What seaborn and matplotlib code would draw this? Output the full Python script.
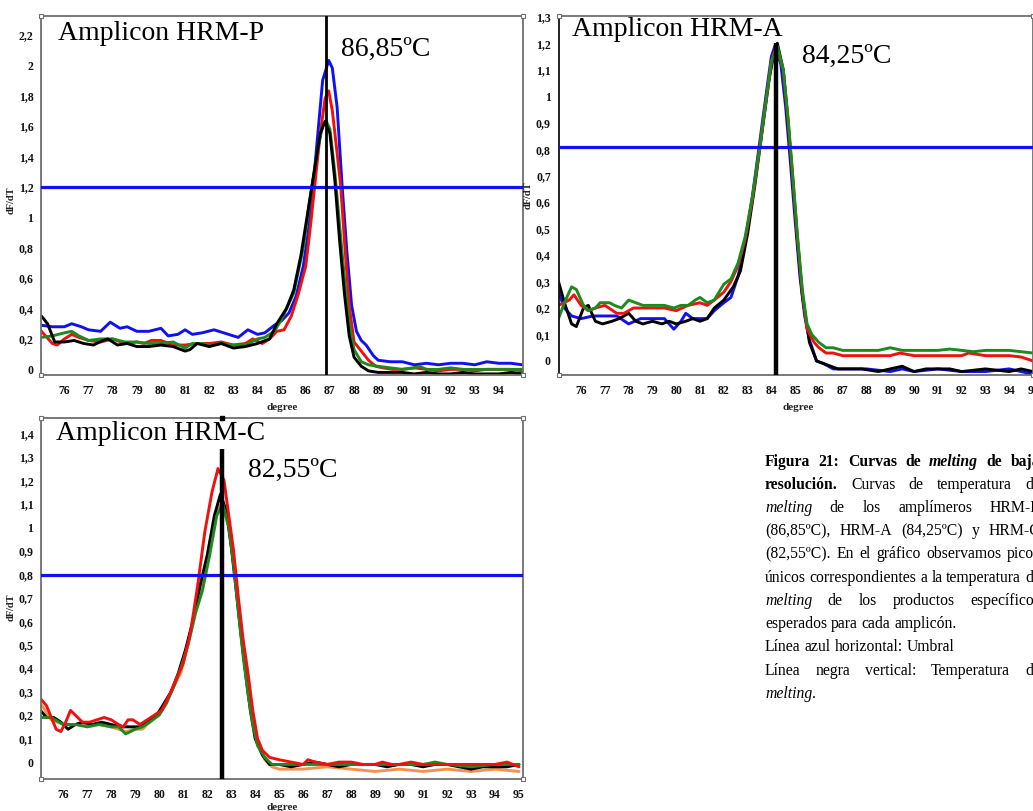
import numpy as np
import pandas as pd
import matplotlib
matplotlib.use("Agg")
import matplotlib.pyplot as plt
import seaborn as sns
from matplotlib.transforms import IdentityTransform
from matplotlib.ticker import FuncFormatter

sns.set_theme(style="white")
plt.rcParams['font.family'] = ['Liberation Serif', 'DejaVu Serif']

# ---------------- data: HRM-P ----------------
p_blue_x = [75.05,75.5,76.0,76.3,76.7,77.0,77.5,77.9,78.3,78.6,79.0,79.5,80.0,80.3,80.7,81.0,81.3,81.7,82.2,82.6,83.0,83.2,83.6,84.0,84.3,84.7,85.0,85.3,85.6,85.9,86.1,86.3,86.5,86.7,86.95,87.1,87.3,87.5,87.7,87.9,88.1,88.3,88.5,88.8,89.0,89.5,90.0,90.5,91.0,91.5,92.0,92.5,93.0,93.5,94.0,94.5,94.98]
p_blue_y = [0.29,0.28,0.28,0.30,0.28,0.26,0.25,0.31,0.27,0.28,0.25,0.25,0.27,0.22,0.23,0.26,0.23,0.24,0.26,0.24,0.22,0.21,0.26,0.23,0.24,0.29,0.32,0.37,0.48,0.68,0.90,1.20,1.55,1.90,2.03,1.98,1.72,1.22,0.78,0.42,0.25,0.19,0.16,0.09,0.06,0.05,0.05,0.03,0.04,0.03,0.04,0.04,0.03,0.05,0.04,0.04,0.03]
p_red_x = [75.05,75.5,75.7,76.0,76.3,76.6,77.0,77.5,78.0,78.5,79.0,79.3,79.6,80.0,80.5,81.0,81.5,82.0,82.5,83.0,83.5,83.8,84.2,84.5,84.8,85.1,85.4,85.7,86.0,86.2,86.4,86.6,86.8,86.95,87.1,87.3,87.45,87.6,87.8,88.0,88.3,88.6,88.9,89.2,89.6,90.0,90.5,91.0,91.5,92.0,92.5,93.0,93.5,94.0,94.5,94.98]
p_red_y = [0.25,0.17,0.16,0.20,0.23,0.21,0.19,0.18,0.20,0.17,0.18,0.17,0.19,0.19,0.16,0.16,0.17,0.17,0.18,0.16,0.17,0.20,0.17,0.20,0.25,0.26,0.35,0.50,0.68,0.95,1.25,1.55,1.78,1.83,1.70,1.42,1.20,0.85,0.42,0.18,0.12,0.06,0.02,0.01,0.0,0.0,0.01,0.0,-0.01,0.0,0.0,-0.01,0.0,0.0,0.0,-0.01]
p_green_x = [75.05,75.5,76.0,76.3,76.6,77.0,77.5,78.0,78.5,79.0,79.5,80.0,80.5,81.0,81.3,81.7,82.0,82.5,83.0,83.5,84.0,84.3,84.7,85.0,85.5,85.9,86.2,86.5,86.7,86.85,87.0,87.2,87.4,87.6,87.8,88.0,88.3,88.6,89.0,89.5,90.0,90.5,90.7,91.0,91.5,92.0,92.5,93.0,93.5,94.0,94.5,94.98]
p_green_y = [0.21,0.22,0.24,0.25,0.22,0.19,0.20,0.20,0.18,0.18,0.17,0.17,0.18,0.14,0.17,0.17,0.16,0.17,0.16,0.16,0.20,0.21,0.25,0.33,0.50,0.80,1.15,1.45,1.60,1.63,1.58,1.30,0.95,0.60,0.30,0.13,0.05,0.03,0.02,0.01,0.0,0.01,0.02,0.0,0.0,0.01,0.0,0.0,0.0,0.0,0.0,0.0]
p_black_x = [75.05,75.3,75.6,76.0,76.4,76.8,77.2,77.6,77.8,78.2,78.6,79.0,79.5,80.0,80.5,81.0,81.2,81.5,82.0,82.5,83.0,83.5,84.0,84.5,84.8,85.2,85.5,85.8,86.1,86.4,86.6,86.8,87.0,87.2,87.4,87.6,87.8,88.0,88.3,88.6,89.0,89.5,90.0,90.5,91.0,91.5,92.0,92.5,93.0,93.5,94.0,94.5,94.98]
p_black_y = [0.35,0.30,0.18,0.18,0.19,0.17,0.16,0.19,0.20,0.16,0.17,0.15,0.15,0.16,0.15,0.12,0.13,0.17,0.15,0.17,0.14,0.15,0.17,0.20,0.30,0.40,0.52,0.75,1.05,1.35,1.55,1.63,1.55,1.25,0.85,0.50,0.22,0.08,0.02,-0.01,-0.02,-0.02,-0.02,-0.03,-0.02,-0.03,-0.03,-0.02,-0.03,-0.03,-0.03,-0.02,-0.03]

# ---------------- data: HRM-A ----------------
a_blue_x = [75.05,75.3,75.6,76.0,76.5,77.0,77.5,78.0,78.5,79.0,79.5,79.9,80.2,80.4,80.7,81.0,81.3,81.6,82.0,82.3,82.6,82.9,83.2,83.5,83.8,84.0,84.15,84.4,84.6,84.8,85.0,85.2,85.4,85.6,85.9,86.2,86.6,87.0,88.0,89.0,89.5,90.0,91.0,92.0,93.0,94.0,95.0]
a_blue_y = [0.26,0.20,0.17,0.16,0.17,0.17,0.17,0.14,0.16,0.16,0.16,0.12,0.15,0.18,0.16,0.16,0.16,0.19,0.22,0.24,0.32,0.45,0.62,0.82,1.02,1.15,1.19,1.12,0.96,0.75,0.53,0.32,0.17,0.08,0.0,-0.01,-0.03,-0.03,-0.03,-0.04,-0.03,-0.04,-0.03,-0.04,-0.04,-0.03,-0.05]
a_black_x = [75.05,75.3,75.6,75.8,76.1,76.3,76.6,76.9,77.3,77.6,78.0,78.3,78.6,79.0,79.4,79.7,80.0,80.4,80.7,81.0,81.3,81.6,82.0,82.4,82.7,83.0,83.3,83.6,83.9,84.1,84.25,84.5,84.7,84.9,85.1,85.3,85.6,85.9,86.2,86.5,86.8,87.2,87.8,88.5,89.0,89.5,90.0,90.5,91.5,92.0,93.0,94.0,94.5,95.0]
a_black_y = [0.30,0.22,0.14,0.13,0.20,0.21,0.15,0.14,0.15,0.16,0.18,0.15,0.14,0.15,0.14,0.15,0.14,0.15,0.16,0.15,0.16,0.20,0.23,0.28,0.34,0.48,0.66,0.86,1.06,1.16,1.20,1.10,0.90,0.68,0.45,0.25,0.07,0.00,-0.01,-0.02,-0.03,-0.03,-0.03,-0.04,-0.03,-0.02,-0.04,-0.03,-0.03,-0.04,-0.03,-0.04,-0.03,-0.04]
a_red_x = [75.05,75.5,75.7,76.0,76.3,76.6,77.0,77.5,77.8,78.2,78.6,79.0,79.5,80.0,80.5,81.0,81.3,81.6,82.0,82.3,82.6,82.9,83.2,83.5,83.8,84.0,84.2,84.5,84.7,84.9,85.1,85.3,85.5,85.8,86.0,86.3,86.6,87.0,88.0,89.0,89.4,90.0,91.0,92.0,92.3,93.0,94.0,94.5,95.0]
a_red_y = [0.21,0.23,0.25,0.21,0.19,0.20,0.21,0.18,0.18,0.20,0.20,0.20,0.20,0.19,0.21,0.22,0.21,0.23,0.26,0.30,0.36,0.46,0.61,0.80,1.00,1.13,1.19,1.10,0.91,0.69,0.46,0.26,0.12,0.07,0.05,0.03,0.03,0.02,0.02,0.02,0.03,0.02,0.02,0.02,0.03,0.02,0.02,0.015,0.0]
a_green_x = [75.05,75.3,75.6,75.8,76.1,76.3,76.6,76.8,77.2,77.4,77.7,78.0,78.3,78.6,79.0,79.5,79.9,80.2,80.5,80.8,81.0,81.3,81.6,82.0,82.3,82.6,82.9,83.2,83.5,83.8,84.0,84.25,84.5,84.7,84.9,85.1,85.3,85.5,85.7,86.0,86.3,86.6,87.0,87.5,88.0,88.5,89.0,89.5,90.0,90.5,91.0,91.5,92.0,92.5,93.0,93.5,94.0,94.5,95.0]
a_green_y = [0.16,0.22,0.28,0.27,0.21,0.19,0.20,0.22,0.22,0.21,0.20,0.23,0.22,0.21,0.21,0.21,0.20,0.21,0.21,0.23,0.24,0.22,0.23,0.29,0.31,0.37,0.47,0.62,0.80,1.00,1.13,1.19,1.10,0.92,0.70,0.47,0.27,0.14,0.10,0.07,0.05,0.05,0.04,0.04,0.04,0.04,0.05,0.04,0.04,0.04,0.04,0.045,0.04,0.035,0.04,0.04,0.04,0.035,0.03]

# ---------------- data: HRM-C ----------------
c_orange_x = [75.05,75.5,76.0,76.5,77.0,77.5,78.0,78.3,78.6,79.0,79.3,79.6,80.0,80.3,80.6,80.9,81.2,81.5,81.8,82.1,82.4,82.6,82.9,83.1,83.3,83.5,83.7,83.9,84.1,84.4,84.7,85.0,86.0,87.0,88.0,89.0,90.0,91.0,92.0,93.0,94.0,95.0]
c_orange_y = [0.25,0.18,0.16,0.16,0.16,0.16,0.15,0.14,0.13,0.14,0.14,0.17,0.21,0.26,0.32,0.38,0.50,0.63,0.77,0.93,1.07,1.10,1.00,0.85,0.66,0.47,0.30,0.17,0.08,0.01,-0.02,-0.03,-0.03,-0.02,-0.03,-0.04,-0.03,-0.04,-0.03,-0.04,-0.03,-0.04]
c_black_x = [75.05,75.3,75.6,75.9,76.2,76.5,76.8,77.2,77.6,78.0,78.4,78.8,79.2,79.6,79.9,80.2,80.5,80.8,81.1,81.4,81.7,82.0,82.3,82.55,82.8,83.0,83.2,83.4,83.6,83.8,84.0,84.3,84.6,85.0,85.5,86.0,86.5,87.0,87.5,88.0,88.5,89.0,89.5,90.0,90.5,91.0,91.5,92.0,92.5,93.0,93.5,94.0,94.5,95.0]
c_black_y = [0.22,0.19,0.19,0.17,0.14,0.16,0.17,0.16,0.17,0.16,0.15,0.15,0.15,0.18,0.20,0.25,0.30,0.38,0.48,0.60,0.75,0.88,1.05,1.14,1.07,0.92,0.74,0.55,0.38,0.22,0.10,0.03,-0.01,-0.01,-0.02,-0.01,0.00,-0.01,-0.02,-0.01,-0.01,-0.01,-0.02,-0.01,-0.01,-0.02,-0.01,-0.01,-0.02,-0.03,-0.02,-0.02,-0.02,-0.01]
c_green_x = [75.05,75.5,76.0,76.5,77.0,77.5,78.0,78.3,78.6,79.0,79.3,79.6,80.0,80.3,80.6,80.9,81.2,81.5,81.8,82.1,82.4,82.65,82.9,83.1,83.3,83.5,83.7,83.9,84.1,84.4,84.7,85.0,86.0,87.0,88.0,89.0,90.0,91.0,91.5,92.0,93.0,94.0,94.5,95.0]
c_green_y = [0.19,0.19,0.16,0.16,0.15,0.16,0.15,0.15,0.12,0.14,0.15,0.17,0.20,0.25,0.32,0.40,0.50,0.63,0.73,0.88,1.05,1.10,1.00,0.84,0.64,0.45,0.29,0.16,0.07,0.02,-0.01,-0.01,-0.01,-0.01,-0.01,-0.01,-0.01,-0.01,0.00,-0.01,-0.02,-0.01,-0.01,-0.01]
c_red_x = [75.05,75.3,75.5,75.7,75.9,76.1,76.3,76.5,76.8,77.1,77.4,77.7,78.0,78.3,78.5,78.7,78.9,79.2,79.5,79.8,80.1,80.4,80.7,81.0,81.3,81.6,81.9,82.2,82.45,82.7,82.9,83.1,83.3,83.5,83.7,83.9,84.1,84.3,84.6,85.0,85.5,86.0,86.2,86.5,87.0,87.5,88.0,88.5,89.0,89.3,89.7,90.0,90.5,91.0,91.5,92.0,92.5,93.0,93.5,94.0,94.5,95.0]
c_red_y = [0.27,0.24,0.19,0.14,0.13,0.17,0.22,0.20,0.17,0.17,0.18,0.19,0.18,0.16,0.15,0.18,0.18,0.16,0.18,0.20,0.22,0.28,0.35,0.42,0.55,0.75,0.98,1.15,1.25,1.20,1.05,0.90,0.70,0.52,0.38,0.22,0.10,0.05,0.02,0.01,0.00,-0.01,0.01,0.00,-0.01,0.00,0.00,-0.01,-0.01,0.00,-0.01,-0.01,0.00,-0.01,-0.01,-0.01,-0.01,-0.01,-0.01,-0.01,0.00,-0.02]

# panel-level values
panel_titles = ["Amplicon HRM-P", "Amplicon HRM-A", "Amplicon HRM-C"]
melt_temps = [86.85, 84.25, 82.55]
melt_labels = ["86,85ºC", "84,25ºC", "82,55ºC"]
thresholds = [1.20, 0.81, 0.795]
x_ticks_P = list(range(76, 95))
x_ticks_A = list(range(76, 96))
x_ticks_C = list(range(76, 96))
y_ticks_P = [0, 0.2, 0.4, 0.6, 0.8, 1.0, 1.2, 1.4, 1.6, 1.8, 2.0, 2.2]
y_ticks_A = [0, 0.1, 0.2, 0.3, 0.4, 0.5, 0.6, 0.7, 0.8, 0.9, 1.0, 1.1, 1.2, 1.3]
y_ticks_C = [0, 0.1, 0.2, 0.3, 0.4, 0.5, 0.6, 0.7, 0.8, 0.9, 1.0, 1.1, 1.2, 1.3, 1.4]

BLUE = "#1010F0"
RED = "#F01010"
GREEN = "#1E8A1E"
BLACK = "#000000"
ORANGE = "#F7924E"
FRAME = "#6E6E6E"
TITLE_FS = 20

W, H = 1033, 811
fig = plt.figure(figsize=(W / 100, H / 100), dpi=100)
fig.patch.set_facecolor("white")


def px_axes(left, top, right, bottom):
    return fig.add_axes([left / W, 1 - bottom / H, (right - left) / W, (bottom - top) / H])


comma_fmt = FuncFormatter(lambda v, p: f"{round(v, 2):g}".replace(".", ","))


def style_axes(ax, xlim, ylim, xticks, yticks, left_color=FRAME):
    ax.set_xlim(*xlim)
    ax.set_ylim(*ylim)
    ax.set_xticks(xticks)
    ax.set_yticks(yticks)
    ax.yaxis.set_major_formatter(comma_fmt)
    ax.xaxis.set_major_formatter(comma_fmt)
    for s in ax.spines.values():
        s.set_color(FRAME)
        s.set_linewidth(1.3)
        s.set_visible(True)
    ax.spines["left"].set_color(left_color)
    ax.tick_params(axis="both", which="major", direction="out", length=3, width=1,
                   color="#333333", labelsize=8.5, pad=2.5, labelcolor="#111111")
    ax.tick_params(axis="x", pad=4)
    for lab in ax.get_xticklabels() + ax.get_yticklabels():
        lab.set_fontweight("bold")
    ax.set_xlabel("degree", fontsize=8, fontweight="bold", color="#222222")
    ax.set_ylabel("dF/dT", fontsize=7.5, fontweight="bold", color="#222222")
    ax.set_facecolor("white")
    ax.grid(False)
    # screenshot corner handles
    ax.plot([0, 1, 0, 1], [0, 0, 1, 1], linestyle="none", marker="s", markersize=3.5,
            markerfacecolor="white", markeredgecolor=FRAME, markeredgewidth=0.8,
            transform=ax.transAxes, clip_on=False, zorder=10)


def curve(ax, xs, ys, color, lw=2.1):
    df = pd.DataFrame({"x": xs, "y": ys})
    sns.lineplot(data=df, x="x", y="y", ax=ax, color=color, linewidth=lw,
                 estimator=None, sort=False)


# ---------- Panel HRM-P ----------
ax1 = px_axes(41, 16, 523, 375)
curve(ax1, p_blue_x, p_blue_y, BLUE)
curve(ax1, p_red_x, p_red_y, RED)
curve(ax1, p_green_x, p_green_y, GREEN)
curve(ax1, p_black_x, p_black_y, BLACK)
ax1.axhline(thresholds[0], color=BLUE, linewidth=2.3, zorder=5)
ax1.axvline(melt_temps[0], color=BLACK, linewidth=2.0, zorder=6)
style_axes(ax1, (75.03, 95.0), (-0.037, 2.322), x_ticks_P, y_ticks_P)
ax1.text(0.035, 0.933, panel_titles[0], transform=ax1.transAxes, fontsize=TITLE_FS,
         va="baseline", ha="left", color="black")
ax1.text(0.622, 0.889, melt_labels[0], transform=ax1.transAxes, fontsize=TITLE_FS,
         va="baseline", ha="left", color="black")
ax1.yaxis.set_label_coords(-0.052, 0.487)
ax1.xaxis.set_label_coords(0.5, -0.078)

# ---------- Panel HRM-A ----------
ax2 = px_axes(558.5, 15.5, 1033, 375)
curve(ax2, a_blue_x, a_blue_y, BLUE)
curve(ax2, a_black_x, a_black_y, BLACK)
curve(ax2, a_red_x, a_red_y, RED)
curve(ax2, a_green_x, a_green_y, GREEN)
ax2.axhline(thresholds[1], color=BLUE, linewidth=2.3, zorder=5)
ax2.vlines(melt_temps[1] - 0.05, -0.053, 1.20, color=BLACK, linewidth=3.2, zorder=6)
style_axes(ax2, (75.05, 95.0), (-0.053, 1.305), x_ticks_A, y_ticks_A, left_color="#111111")
ax2.text(0.028, 0.943, panel_titles[1], transform=ax2.transAxes, fontsize=TITLE_FS,
         va="baseline", ha="left", color="black")
ax2.text(0.513, 0.867, melt_labels[1], transform=ax2.transAxes, fontsize=TITLE_FS,
         va="baseline", ha="left", color="black")
ax2.yaxis.set_label_coords(-0.055, 0.50)
ax2.xaxis.set_label_coords(0.505, -0.078)

# ---------- Panel HRM-C ----------
ax3 = px_axes(41, 418, 523.3, 779)
curve(ax3, c_orange_x, c_orange_y, ORANGE)
curve(ax3, c_black_x, c_black_y, BLACK)
curve(ax3, c_green_x, c_green_y, GREEN)
curve(ax3, c_red_x, c_red_y, RED)
ax3.axhline(thresholds[2], color=BLUE, linewidth=2.3, zorder=5)
ax3.vlines(melt_temps[2] + 0.05, -0.072, 1.333, color=BLACK, linewidth=3.2, zorder=6)
style_axes(ax3, (75.07, 95.18), (-0.072, 1.465), x_ticks_C, y_ticks_C)
ax3.plot([melt_temps[2] + 0.05], [1.465], marker="s", markersize=3, color=BLACK,
         clip_on=False, zorder=11)
ax3.text(0.031, 0.939, panel_titles[2], transform=ax3.transAxes, fontsize=TITLE_FS,
         va="baseline", ha="left", color="black")
ax3.text(0.43, 0.837, melt_labels[2], transform=ax3.transAxes, fontsize=TITLE_FS,
         va="baseline", ha="left", color="black")
ax3.yaxis.set_label_coords(-0.052, 0.476)
ax3.xaxis.set_label_coords(0.5, -0.066)

# ---------- Caption (justified text) ----------
caption_lines = [
    ([("Figura", "bold", "normal"), ("21:", "bold", "normal"), ("Curvas", "bold", "normal"),
      ("de", "bold", "normal"), ("melting", "bold", "italic"), ("de", "bold", "normal"),
      ("baja", "bold", "normal")], True),
    ([("resolución.", "bold", "normal"), ("Curvas", "normal", "normal"), ("de", "normal", "normal"),
      ("temperatura", "normal", "normal"), ("de", "normal", "normal")], True),
    ([("melting", "normal", "italic"), ("de", "normal", "normal"), ("los", "normal", "normal"),
      ("amplímeros", "normal", "normal"), ("HRM-P", "normal", "normal")], True),
    ([("(86,85ºC),", "normal", "normal"), ("HRM-A", "normal", "normal"),
      ("(84,25ºC)", "normal", "normal"), ("y", "normal", "normal"), ("HRM-C", "normal", "normal")], True),
    ([("(82,55ºC).", "normal", "normal"), ("En", "normal", "normal"), ("el", "normal", "normal"),
      ("gráfico", "normal", "normal"), ("observamos", "normal", "normal"), ("picos", "normal", "normal")], True),
    ([("únicos", "normal", "normal"), ("correspondientes", "normal", "normal"), ("a", "normal", "normal"),
      ("la", "normal", "normal"), ("temperatura", "normal", "normal"), ("de", "normal", "normal")], True),
    ([("melting", "normal", "italic"), ("de", "normal", "normal"), ("los", "normal", "normal"),
      ("productos", "normal", "normal"), ("específicos", "normal", "normal")], True),
    ([("esperados", "normal", "normal"), ("para", "normal", "normal"), ("cada", "normal", "normal"),
      ("amplicón.", "normal", "normal")], False),
    ([("Línea", "normal", "normal"), ("azul", "normal", "normal"), ("horizontal:", "normal", "normal"),
      ("Umbral", "normal", "normal")], False),
    ([("Línea", "normal", "normal"), ("negra", "normal", "normal"), ("vertical:", "normal", "normal"),
      ("Temperatura", "normal", "normal"), ("de", "normal", "normal")], True),
    ([("melting", "normal", "italic"), (".", "normal", "normal")], False),
]
caption_centers = [461, 484, 507, 530, 553, 577, 600, 623, 646, 670, 693]

renderer = fig.canvas.get_renderer()
CAP_X0, CAP_X1, CAP_FS = 765, 1040, 11.3
space_px = CAP_FS * 0.25 * 100 / 72

for (words, just), yc in zip(caption_lines, caption_centers):
    ybase = H - (yc + 5)
    arts = [fig.text(0, ybase, w, transform=IdentityTransform(), fontsize=CAP_FS,
                     fontweight=wt, fontstyle=st, va="baseline", ha="left", color="black")
            for w, wt, st in words]
    widths = [a.get_window_extent(renderer).width for a in arts]
    if just and len(arts) > 1:
        gap = (CAP_X1 - CAP_X0 - sum(widths)) / (len(arts) - 1)
    else:
        gap = space_px
    if words[-1][0] == ".":
        gap_list = [0.0]
    else:
        gap_list = [gap] * (len(arts) - 1)
    x = CAP_X0
    for i, (a, w) in enumerate(zip(arts, widths)):
        a.set_x(x)
        if i < len(gap_list):
            x += w + gap_list[i]

fig.savefig("out.png", dpi=100, facecolor="white")
